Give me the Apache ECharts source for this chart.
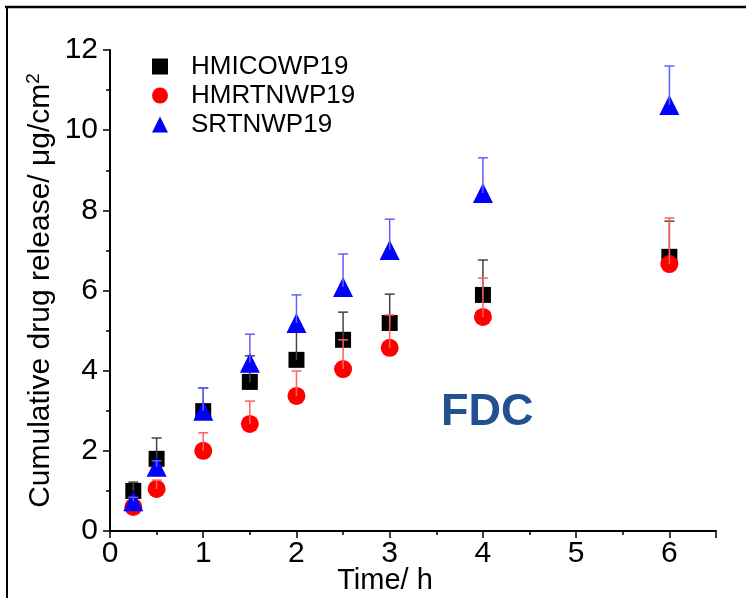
<!DOCTYPE html>
<html>
<head>
<meta charset="utf-8">
<script src="https://cdn.jsdelivr.net/npm/echarts@6/dist/echarts.min.js"></script>
<style>html,body{margin:0;padding:0;background:#fff;}#c{width:746px;height:598px;}</style>
</head>
<body>
<div id="c"></div>
<script>
const times = [0.25, 0.5, 1, 1.5, 2, 2.5, 3, 4, 6];
const hmico = [1.0, 1.8, 2.99, 3.72, 4.27, 4.77, 5.19, 5.89, 6.84];
const hmicoErr = [0.22, 0.52, 0.58, 0.65, 0.69, 0.69, 0.72, 0.87, 0.89];
const hmrtn = [0.6, 1.05, 2.0, 2.67, 3.37, 4.04, 4.57, 5.34, 6.66];
const hmrtnErr = [0.1, 0.22, 0.45, 0.57, 0.62, 0.73, 0.82, 0.97, 1.15];
const srtn = [0.74, 1.6, 3.0, 4.2, 5.19, 6.09, 7.01, 8.43, 10.63];
const srtnErr = [0.1, 0.15, 0.57, 0.71, 0.70, 0.82, 0.77, 0.88, 0.97];
const names = ['HMICOWP19', 'HMRTNWP19', 'SRTNWP19'];

const chart = echarts.init(document.getElementById('c'));
const FONT = 'Liberation Sans, Arial, sans-serif';

function pts(vals) { return times.map((t, i) => [t, vals[i]]); }
function errPts(vals, errs) { return times.map((t, i) => [t, vals[i], errs[i]]); }
function errSeries(vals, errs, color, z) {
  return {
    type: 'custom',
    z: z,
    silent: true,
    data: errPts(vals, errs),
    renderItem: function (params, api) {
      const x = api.value(0), y = api.value(1), e = api.value(2);
      const p0 = api.coord([x, y]);
      const p1 = api.coord([x, y + e]);
      return {
        type: 'group',
        children: [
          { type: 'line', shape: { x1: p0[0], y1: p0[1], x2: p1[0], y2: p1[1] }, style: { stroke: color, lineWidth: 1.5 } },
          { type: 'line', shape: { x1: p1[0] - 5, y1: p1[1], x2: p1[0] + 5, y2: p1[1] }, style: { stroke: color, lineWidth: 1.5 } }
        ]
      };
    }
  };
}

chart.setOption({
  animation: false,
  backgroundColor: '#fff',
  grid: { left: 110, right: 30, top: 50, bottom: 67, containLabel: false, outerBoundsMode: 'none' },
  legend: {
    data: [
      { name: names[0], icon: 'rect' },
      { name: names[1], icon: 'circle' },
      { name: names[2], icon: 'triangle' }
    ],
    orient: 'vertical',
    left: 147,
    top: 48,
    itemWidth: 16,
    itemHeight: 16,
    itemGap: 2,
    textStyle: { fontFamily: FONT, fontSize: 26, lineHeight: 27, color: '#000', padding: [0, 0, 0, 18] }
  },
  xAxis: {
    type: 'value', min: 0, max: 6.5, interval: 1,
    name: 'Time/ h', nameLocation: 'middle', nameGap: 35, nameMoveOverlap: false,
    nameTextStyle: { fontFamily: FONT, fontSize: 29, color: '#000', padding: [0, 56, 0, 0] },
    axisLine: { show: true, onZero: false, lineStyle: { color: '#000', width: 2 } },
    axisTick: { show: true, inside: false, length: 7, lineStyle: { color: '#000', width: 1.5 } },
    minorTick: { show: true, splitNumber: 2, length: 4, lineStyle: { color: '#000', width: 1.5 } },
    axisLabel: { fontFamily: FONT, fontSize: 30, color: '#000', margin: 8, showMaxLabel: false },
    splitLine: { show: false }
  },
  yAxis: {
    type: 'value', min: 0, max: 12, interval: 2,
    name: 'Cumulative drug release/ μg/cm{sup|2}', nameLocation: 'middle', nameGap: 53, nameMoveOverlap: false,
    nameTextStyle: {
      fontFamily: FONT, fontSize: 30, color: '#000',
      rich: { sup: { fontFamily: FONT, fontSize: 19, color: '#000', verticalAlign: 'top', padding: [0, 0, 14, 0] } }
    },
    axisLine: { show: true, onZero: false, lineStyle: { color: '#000', width: 2 } },
    axisTick: { show: true, inside: false, length: 7, lineStyle: { color: '#000', width: 1.5 } },
    minorTick: { show: true, splitNumber: 2, length: 4, lineStyle: { color: '#000', width: 1.5 } },
    axisLabel: { fontFamily: FONT, fontSize: 30, color: '#000', margin: 12 },
    splitLine: { show: false }
  },
  series: [
    { name: names[0], type: 'scatter', symbol: 'rect', symbolSize: 16, z: 2, itemStyle: { color: '#000', opacity: 1 }, data: pts(hmico) },
    errSeries(hmico, hmicoErr, '#444444', 3),
    { name: names[1], type: 'scatter', symbol: 'circle', symbolSize: 18, z: 4, itemStyle: { color: '#ff0000', opacity: 1 }, data: pts(hmrtn) },
    errSeries(hmrtn, hmrtnErr, '#ff6060', 5),
    { name: names[2], type: 'scatter', symbol: 'triangle', symbolSize: 20, z: 6, itemStyle: { color: '#0000ff', opacity: 1 }, data: pts(srtn) },
    errSeries(srtn, srtnErr, '#6060ff', 7)
  ],
  graphic: [
    { type: 'line', shape: { x1: 5, y1: 7, x2: 746, y2: 7 }, style: { stroke: '#000', lineWidth: 2.5 } },
    { type: 'line', shape: { x1: 7, y1: 6, x2: 7, y2: 598 }, style: { stroke: '#000', lineWidth: 2 } },
    { type: 'text', left: 441, top: 390, style: { text: 'FDC', fontFamily: FONT, fontSize: 45, fontWeight: 'bold', fill: '#22518f' } }
  ]
});
</script>
</body>
</html>
